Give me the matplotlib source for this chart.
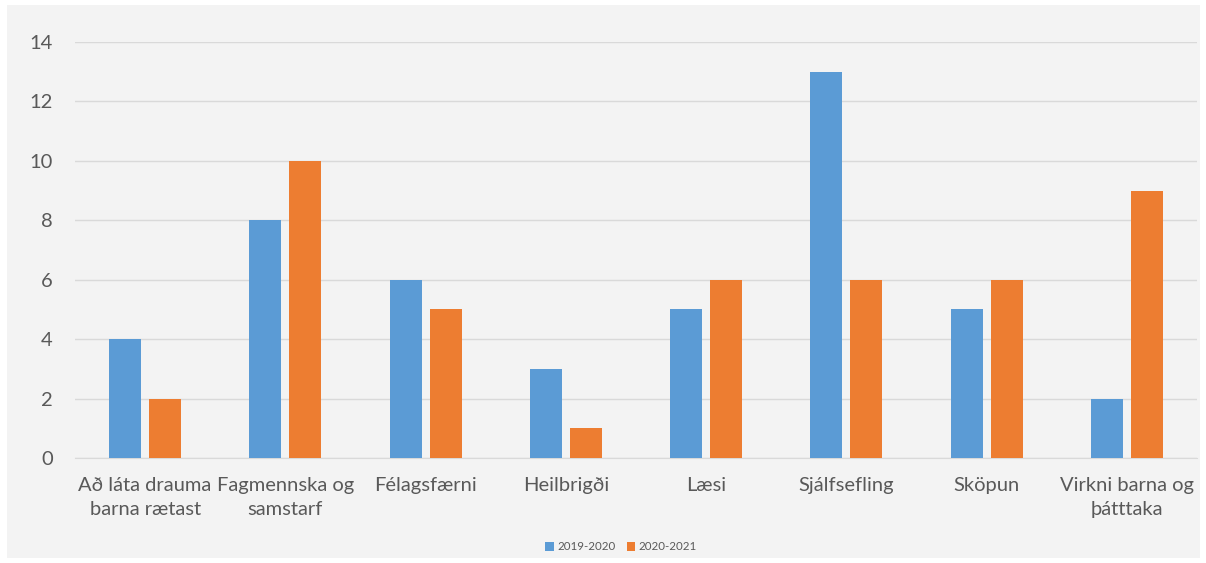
import matplotlib
matplotlib.use("Agg")
import matplotlib.pyplot as plt
import numpy as np
from matplotlib.patches import Rectangle

categories = ["Að láta drauma\nbarna rætast", "Fagmennska og\nsamstarf", "Félagsfærni",
              "Heilbrigði", "Læsi", "Sjálfsefling", "Sköpun", "Virkni barna og\nþátttaka"]
s2019 = [4, 8, 6, 3, 5, 13, 5, 2]
s2020 = [2, 10, 5, 1, 6, 6, 6, 9]
series_names = ["2019-2020", "2020-2021"]

plt.rcParams['font.family'] = ['Lato', 'DejaVu Sans']
W, H = 1206, 563
fig = plt.figure(figsize=(W/100, H/100), dpi=100)
fig.patch.set_facecolor("white")
fig.patches.append(Rectangle((7/W, 5/H), (1200-7)/W, (558-5)/H, transform=fig.transFigure,
                             facecolor="#f3f3f3", edgecolor="none", zorder=-10))
ax = fig.add_axes([75/W, 1-458/H, (1197-75)/W, (458-42)/H])
ax.set_facecolor("none")
x = np.arange(len(categories))
w = 0.228
ax.bar(x - 0.142, s2019, w, color="#5b9bd5", label=series_names[0], zorder=3)
ax.bar(x + 0.142, s2020, w, color="#ed7d31", label=series_names[1], zorder=3)
ax.set_xlim(-0.5, len(categories) - 0.5)
ax.set_ylim(0, 14)
ax.set_yticks(range(0, 15, 2))
ax.yaxis.grid(True, color="#d9d9d9", linewidth=1)
ax.set_axisbelow(True)
for s in ["top", "right", "left"]:
    ax.spines[s].set_visible(False)
ax.spines["bottom"].set_color("#d9d9d9")
ax.tick_params(axis="both", length=0, colors="#595959", labelsize=14.5)
ax.tick_params(axis="y", pad=16)
ax.tick_params(axis="x", pad=14)
ax.set_xticks(x)
ax.set_xticklabels(categories, linespacing=1.5)
leg = ax.legend(loc="center", ncol=2, frameon=False, fontsize=8.3, handlelength=0.7,
                handleheight=0.7, handletextpad=0.3, columnspacing=1.0)
leg.set_bbox_to_anchor((621/W, 1 - 547/H), transform=fig.transFigure)
for t in leg.get_texts():
    t.set_color("#595959")
fig.savefig("out.png", dpi=100)
